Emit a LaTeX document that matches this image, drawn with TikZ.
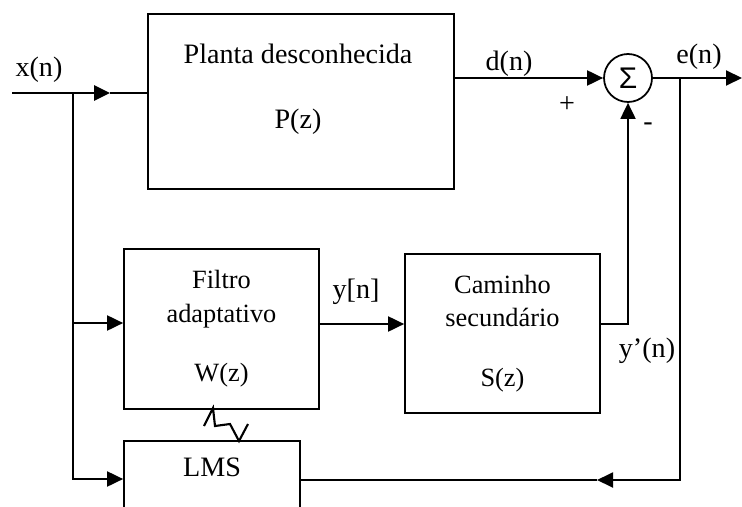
\documentclass[tikz,border=0pt]{standalone}
\usepackage{fontspec}
\setmainfont{Liberation Serif}
\newfontfamily\sumfont{Liberation Sans}
\usetikzlibrary{positioning,arrows.meta}
\tikzset{
  blk/.style ={draw,line width=1pt,align=center,font=\fontsize{15}{19}\selectfont},
  sumb/.style={draw,circle,line width=1pt,inner sep=0pt,minimum size=0.96cm,font=\sumfont\fontsize{17}{20}\selectfont},
  wire/.style={line width=1.1pt},
  arr/.style ={wire,-{Triangle[length=3.2mm,width=3mm]}},
  lbl/.style ={font=\fontsize{16}{20}\selectfont,inner sep=1pt},
}

\begin{document}
\begin{tikzpicture}[x=0.02cm,y=-0.02cm]
\clip (0,0) rectangle (742,506);

% ===================== BLOCOS =======================================
\node[blk,minimum width=6.12cm,minimum height=3.5cm] (plant) at (301,101.5) {};
\node[lbl,align=center] (planttxt) at (298,89) {Planta desconhecida\\[17pt]P(z)};
\node[blk,minimum width=3.9cm,minimum height=3.2cm] (filt) at (221.5,329) {Filtro\\adaptativo\\[15pt]W(z)};
\node[blk,minimum width=3.9cm,minimum height=3.18cm] (sec) at (502.5,333.5) {Caminho\\secundário\\[15pt]S(z)};
\node[blk,minimum width=3.52cm,minimum height=1.52cm] (lms) at (212,479) {};
\node[lbl] (lmstxt) at (212,467) {LMS};
\node[sumb] (sum) at (628,78) {Σ};

% ===================== ENTRADA ======================================
\coordinate (xin)  at (12,93);
\coordinate (xtip) at (110,93);
\coordinate (xbr)  at (73,93);
\draw[arr,line width=1.5pt] (xin) -- (xtip);
\draw[wire] (xtip) -- (xtip -| plant.west);
\node[lbl] (xlbl) at (39,70) {x(n)};

\coordinate (fin) at ([yshift=1.2mm]filt.west);
\draw[arr] (xbr) |- (lms.west);
\draw[arr] (fin -| xbr) -- (fin);

% ===================== SAIDAS / SOMA ================================
\draw[arr] (sum.west -| plant.east) -- (sum.west);
\node[lbl] (dlbl) at (509,64) {d(n)};
\node[lbl] (plus) at (567,105) {+};

\coordinate (yout) at ([yshift=1mm]filt.east);
\draw[arr] (yout) -- (yout -| sec.west);
\node[lbl] (ylbl) at (356,292) {y[n]};

\coordinate (sout) at ([yshift=1.9mm]sec.east);
\draw[arr] (sout) -| (sum.south);
\node[lbl] (yslbl) at (647,351) {y’(n)};
\node[lbl] (minus) at (648,127) {-};

\coordinate (eout) at (742,78);
\draw[arr] (sum.east) -- (eout);
\node[lbl] (elbl) at (699,57) {e(n)};

% ===================== REALIMENTACAO ================================
\coordinate (ebr)  at (680,78);
\coordinate (etip) at (597,480);
\draw[arr] (ebr) |- (etip);
\draw[wire] (etip) -- (etip -| lms.east);

% atualizacao dos coeficientes
\draw[wire,line width=1.2pt] (204,426) -- (213,408) -- (215,426) -- (230,424) -- (239,441) -- (248,424);

\end{tikzpicture}
\end{document}
